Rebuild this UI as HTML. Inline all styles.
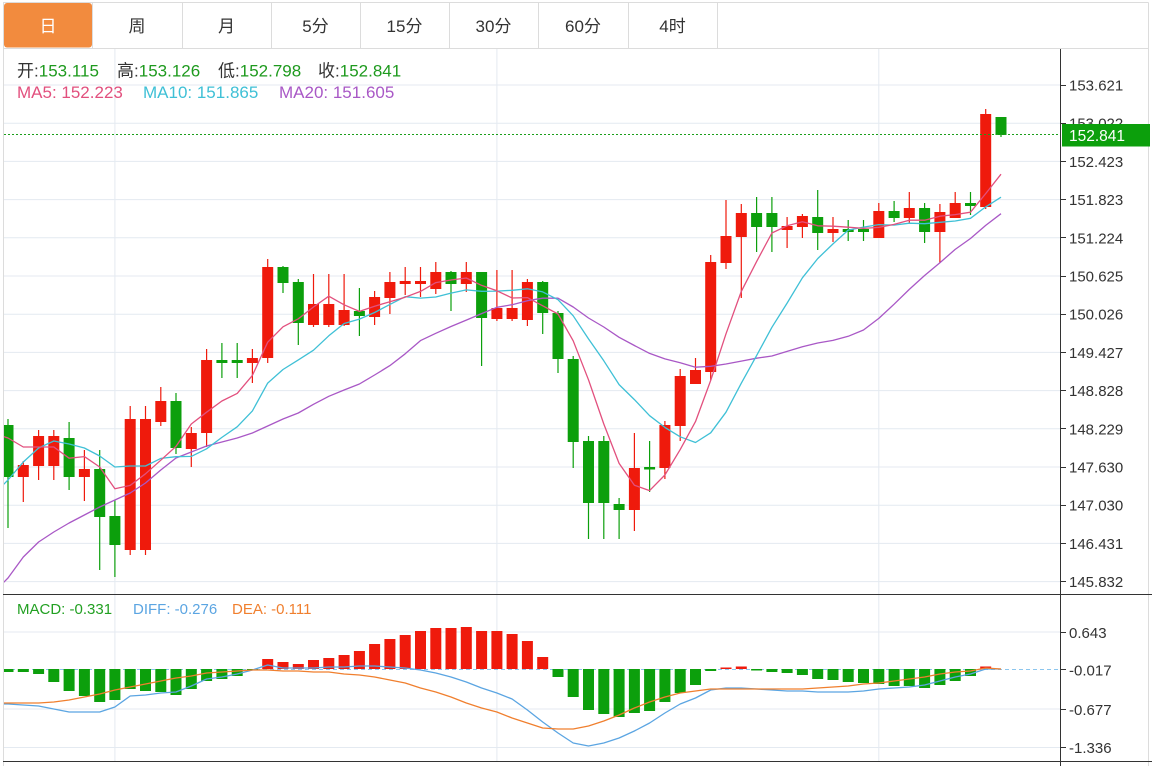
<!DOCTYPE html>
<html><head><meta charset="utf-8"><style>
html,body{margin:0;padding:0;background:#fff;}
svg{display:block;font-family:"Liberation Sans","Noto Sans CJK SC",sans-serif;}
</style></head><body>
<svg width="1152" height="766" viewBox="0 0 1152 766" xmlns="http://www.w3.org/2000/svg">
<defs>
<clipPath id="cm"><rect x="4" y="49" width="1056" height="545"/></clipPath>
<clipPath id="cd"><rect x="4" y="595" width="1056" height="166"/></clipPath>
</defs>
<rect width="1152" height="766" fill="#fff"/>
<g stroke="#dcdcdc" stroke-width="1" fill="none">
<path d="M3 2.5H1148.5M3 48.5H1148.5M3.5 2.5V766M1148.5 2.5V766M92.5 2.5V48.5M182.5 2.5V48.5M271.5 2.5V48.5M360.5 2.5V48.5M449.5 2.5V48.5M538.5 2.5V48.5M628.5 2.5V48.5M717.5 2.5V48.5"/>
</g>
<rect x="4" y="3" width="88" height="44.5" rx="3" fill="#f28b3e"/>
<g font-size="17" text-anchor="middle" fill="#333">
<text x="48" y="32" fill="#fff">日</text>
<text x="137" y="32">周</text>
<text x="226.5" y="32">月</text>
<text x="315.5" y="32">5分</text>
<text x="404.5" y="32">15分</text>
<text x="493.5" y="32">30分</text>
<text x="583" y="32">60分</text>
<text x="672.5" y="32">4时</text>
</g>
<g stroke="#e4eaf1" stroke-width="1">
<path d="M4 85H1060M4 123.2H1060M4 161.4H1060M4 199.6H1060M4 237.8H1060M4 276H1060M4 314.2H1060M4 352.4H1060M4 390.6H1060M4 428.8H1060M4 467H1060M4 505.2H1060M4 543.4H1060M4 581.6H1060"/>
<path d="M4 632H1060M4 709H1060M4 747.5H1060"/>
<path d="M114.9 49V762M496.9 49V762M878.8 49V762"/>
</g>
<g clip-path="url(#cm)">
<g stroke="#ef1a0c" stroke-width="1.2" fill="none">
<path d="M23.3 461V502M38.6 430V480M53.8 430V480M84.4 450V501M130.2 406V555M145.5 406V555M160.8 387V426M191.3 427V467M206.6 349V447M252.4 349V383M267.7 259V363M313.5 274V327M328.8 274V327M344.1 274V326M374.6 291V325M389.9 272V314M405.2 267V295M420.5 267V297M435.8 262V294M466.3 262V292M496.9 270V321M512.1 270V321M527.4 279V326M634.4 433V531M664.9 421V479M680.2 369V441M695.5 358V384M710.7 255V380M726 200V269M741.3 204V298M787.1 217V248M802.4 214V238M833 217V242M878.8 203V238M909.3 192V223M939.9 204V263M955.2 192V218M985.7 109V209"/>
</g>
<g fill="#ef1a0c">
<rect x="17.8" y="465" width="11" height="12"/>
<rect x="33.1" y="436" width="11" height="30"/>
<rect x="48.3" y="436" width="11" height="30"/>
<rect x="78.9" y="469" width="11" height="8"/>
<rect x="124.7" y="419" width="11" height="131"/>
<rect x="140" y="419" width="11" height="131"/>
<rect x="155.3" y="401" width="11" height="21"/>
<rect x="185.8" y="433" width="11" height="16"/>
<rect x="201.1" y="360" width="11" height="73"/>
<rect x="246.9" y="358" width="11" height="5"/>
<rect x="262.2" y="267" width="11" height="91"/>
<rect x="308" y="304" width="11" height="21"/>
<rect x="323.3" y="304" width="11" height="21"/>
<rect x="338.6" y="310" width="11" height="15"/>
<rect x="369.1" y="297" width="11" height="20"/>
<rect x="384.4" y="282" width="11" height="16"/>
<rect x="399.7" y="281" width="11" height="3"/>
<rect x="415" y="281" width="11" height="3"/>
<rect x="430.3" y="272" width="11" height="17"/>
<rect x="460.8" y="272" width="11" height="12"/>
<rect x="491.4" y="308" width="11" height="11"/>
<rect x="506.6" y="308" width="11" height="11"/>
<rect x="521.9" y="282" width="11" height="38"/>
<rect x="628.9" y="468" width="11" height="42"/>
<rect x="659.4" y="425" width="11" height="43"/>
<rect x="674.7" y="376" width="11" height="50"/>
<rect x="690" y="370" width="11" height="14"/>
<rect x="705.2" y="262" width="11" height="110"/>
<rect x="720.5" y="236" width="11" height="27"/>
<rect x="735.8" y="213" width="11" height="24"/>
<rect x="781.6" y="226" width="11" height="4"/>
<rect x="796.9" y="216" width="11" height="11"/>
<rect x="827.5" y="229" width="11" height="4"/>
<rect x="873.3" y="211" width="11" height="27"/>
<rect x="903.8" y="208" width="11" height="10"/>
<rect x="934.4" y="212" width="11" height="20"/>
<rect x="949.7" y="203" width="11" height="15"/>
<rect x="980.2" y="114" width="11" height="93"/>
</g>
<g stroke="#0c9f0c" stroke-width="1.2" fill="none">
<path d="M8 419V528M69.1 422V490M99.7 450V570M114.9 500V577M176 393V454M221.9 343V378M237.2 343V378M283 266V293M298.3 279V345M359.4 288V336M451 271V311M481.6 272V366M542.7 281V334M558 311V373M573.2 356V468M588.5 436V539M603.8 436V539M619.1 498V539M649.6 441V492M756.6 197V252M771.9 197V252M817.7 190V250M848.2 220V241M863.5 220V241M894.1 201V222M924.6 203V243M970.5 192V215M1001 117V137"/>
</g>
<g fill="#0c9f0c">
<rect x="2.5" y="425" width="11" height="52"/>
<rect x="63.6" y="438" width="11" height="39"/>
<rect x="94.2" y="469" width="11" height="48"/>
<rect x="109.4" y="516" width="11" height="29"/>
<rect x="170.5" y="401" width="11" height="47"/>
<rect x="216.4" y="360" width="11" height="3"/>
<rect x="231.7" y="360" width="11" height="3"/>
<rect x="277.5" y="267" width="11" height="16"/>
<rect x="292.8" y="282" width="11" height="41"/>
<rect x="353.9" y="311" width="11" height="5"/>
<rect x="445.5" y="272" width="11" height="12"/>
<rect x="476.1" y="272" width="11" height="46"/>
<rect x="537.2" y="282" width="11" height="31"/>
<rect x="552.5" y="313" width="11" height="46"/>
<rect x="567.7" y="359" width="11" height="83"/>
<rect x="583" y="441" width="11" height="62"/>
<rect x="598.3" y="441" width="11" height="62"/>
<rect x="613.6" y="504" width="11" height="6"/>
<rect x="644.1" y="467" width="11" height="2.5"/>
<rect x="751.1" y="213" width="11" height="14"/>
<rect x="766.4" y="213" width="11" height="14"/>
<rect x="812.2" y="217" width="11" height="16"/>
<rect x="842.7" y="229" width="11" height="3"/>
<rect x="858" y="229" width="11" height="3"/>
<rect x="888.6" y="211" width="11" height="7"/>
<rect x="919.1" y="208" width="11" height="24"/>
<rect x="965" y="203" width="11" height="3"/>
<rect x="995.5" y="117" width="11" height="18"/>
</g>
<g fill="none" stroke-width="1.3" stroke-linejoin="round">
<polyline stroke="#a958c6" points="2,584 8,578 23.3,557 38.6,542 53.8,532 69.1,523 84.4,515 99.7,507 114.9,500 130.2,493 145.5,483 160.8,470 176,458 191.3,452 206.6,446 221.9,442 237.2,438 252.4,433 267.7,426 283,419 298.3,413 313.5,404.3 328.8,396.3 344.1,390 359.4,384 374.6,375 389.9,365.6 405.2,353.8 420.5,340.6 435.8,333.3 451,326.5 466.3,320.1 481.6,313.6 496.9,307.3 512.1,304.7 527.4,300.7 542.7,298.2 558,298.2 573.2,307 588.5,318 603.8,327 619.1,337.3 634.4,345.5 649.6,353.4 664.9,358.9 680.2,362.8 695.5,367.2 710.7,366.3 726,364 741.3,361.1 756.6,358.2 771.9,356 787.1,351.4 802.4,346.8 817.7,343 833,340.4 848.2,336.3 863.5,330 878.8,318.4 894.1,304.2 909.3,289.4 924.6,275.5 939.9,262.7 955.2,249.4 970.5,238.5 985.7,225.4 1001,213.7"/>
<polyline stroke="#3fc0d6" points="2,486 8,480 23.3,462 38.6,448 53.8,441 69.1,444 84.4,448 99.7,456 114.9,467 130.2,466 145.5,466 160.8,458.4 176,456.7 191.3,456.4 206.6,448.8 221.9,437.4 237.2,426.8 252.4,410.9 267.7,383.1 283,369.5 298.3,359.9 313.5,350.2 328.8,335.8 344.1,323.5 359.4,319.1 374.6,312.5 389.9,304.4 405.2,296.7 420.5,298.1 435.8,297 451,293.1 466.3,289.9 481.6,291.3 496.9,291.1 512.1,290.3 527.4,288.8 542.7,291.9 558,299.7 573.2,315.8 588.5,338.9 603.8,360.8 619.1,384.6 634.4,399.6 649.6,415.7 664.9,427.4 680.2,436.8 695.5,442.5 710.7,432.8 726,412.2 741.3,383.2 756.6,355.6 771.9,327.3 787.1,303.1 802.4,277.8 817.7,258.6 833,243.9 848.2,230.1 863.5,227.1 878.8,224.6 894.1,225.1 909.3,223.2 924.6,223.7 939.9,222.3 955.2,221 970.5,218.3 985.7,206.9 1001,197.2"/>
<polyline stroke="#e2507e" points="2,436 8,438 23.3,447 38.6,447 53.8,447 69.1,458.2 84.4,456.6 99.7,467 114.9,488.8 130.2,485.4 145.5,473.8 160.8,460.2 176,446.4 191.3,424 206.6,412.2 221.9,401 237.2,393.4 252.4,375.4 267.7,342.2 283,326.8 298.3,318.8 313.5,307 328.8,296.2 344.1,304.8 359.4,311.4 374.6,306.2 389.9,301.8 405.2,297.2 420.5,291.4 435.8,282.6 451,280 466.3,278 481.6,285.4 496.9,290.8 512.1,298 527.4,297.6 542.7,305.8 558,314 573.2,340.8 588.5,379.8 603.8,424 619.1,463.4 634.4,485.2 649.6,490.6 664.9,475 680.2,449.6 695.5,421.6 710.7,380.4 726,333.8 741.3,291.4 756.6,261.6 771.9,233 787.1,225.8 802.4,221.8 817.7,225.8 833,226.2 848.2,227.2 863.5,228.4 878.8,227.4 894.1,224.4 909.3,220.2 924.6,220.2 939.9,216.2 955.2,214.6 970.5,212.2 985.7,193.6 1001,174.2"/>
</g>
</g>
<path d="M4 134.5H1060" stroke="#1a9e1a" stroke-width="1" stroke-dasharray="2,2"/>
<g clip-path="url(#cd)">
<path d="M4 669.5H1060" stroke="#8cc6ee" stroke-width="1" stroke-dasharray="4,3"/>
<g fill="#0c9f0c">
<rect x="2.5" y="669" width="11" height="3"/>
<rect x="17.8" y="669" width="11" height="3"/>
<rect x="33.1" y="669" width="11" height="5"/>
<rect x="48.3" y="669" width="11" height="13"/>
<rect x="63.6" y="669" width="11" height="22"/>
<rect x="78.9" y="669" width="11" height="27"/>
<rect x="94.2" y="669" width="11" height="33"/>
<rect x="109.4" y="669" width="11" height="31"/>
<rect x="124.7" y="669" width="11" height="20"/>
<rect x="140" y="669" width="11" height="22"/>
<rect x="155.3" y="669" width="11" height="23"/>
<rect x="170.5" y="669" width="11" height="26"/>
<rect x="185.8" y="669" width="11" height="20"/>
<rect x="201.1" y="669" width="11" height="12"/>
<rect x="216.4" y="669" width="11" height="10"/>
<rect x="231.7" y="669" width="11" height="7"/>
<rect x="246.9" y="669" width="11" height="1.5"/>
<rect x="552.5" y="669" width="11" height="8"/>
<rect x="567.7" y="669" width="11" height="28"/>
<rect x="583" y="669" width="11" height="41"/>
<rect x="598.3" y="669" width="11" height="45"/>
<rect x="613.6" y="669" width="11" height="48"/>
<rect x="628.9" y="669" width="11" height="44"/>
<rect x="644.1" y="669" width="11" height="42"/>
<rect x="659.4" y="669" width="11" height="33"/>
<rect x="674.7" y="669" width="11" height="24"/>
<rect x="690" y="669" width="11" height="16"/>
<rect x="705.2" y="669" width="11" height="2"/>
<rect x="751.1" y="669" width="11" height="1.5"/>
<rect x="766.4" y="669" width="11" height="3"/>
<rect x="781.6" y="669" width="11" height="4"/>
<rect x="796.9" y="669" width="11" height="6"/>
<rect x="812.2" y="669" width="11" height="10"/>
<rect x="827.5" y="669" width="11" height="11"/>
<rect x="842.7" y="669" width="11" height="13"/>
<rect x="858" y="669" width="11" height="14"/>
<rect x="873.3" y="669" width="11" height="15"/>
<rect x="888.6" y="669" width="11" height="17"/>
<rect x="903.8" y="669" width="11" height="17"/>
<rect x="919.1" y="669" width="11" height="19"/>
<rect x="934.4" y="669" width="11" height="16"/>
<rect x="949.7" y="669" width="11" height="12"/>
<rect x="965" y="669" width="11" height="7"/>
</g>
<g fill="#ef1a0c">
<rect x="262.2" y="659" width="11" height="10"/>
<rect x="277.5" y="662" width="11" height="7"/>
<rect x="292.8" y="664" width="11" height="5"/>
<rect x="308" y="660" width="11" height="9"/>
<rect x="323.3" y="658" width="11" height="11"/>
<rect x="338.6" y="655" width="11" height="14"/>
<rect x="353.9" y="651" width="11" height="18"/>
<rect x="369.1" y="644" width="11" height="25"/>
<rect x="384.4" y="639" width="11" height="30"/>
<rect x="399.7" y="635" width="11" height="34"/>
<rect x="415" y="631" width="11" height="38"/>
<rect x="430.3" y="628" width="11" height="41"/>
<rect x="445.5" y="628" width="11" height="41"/>
<rect x="460.8" y="627" width="11" height="42"/>
<rect x="476.1" y="631" width="11" height="38"/>
<rect x="491.4" y="631" width="11" height="38"/>
<rect x="506.6" y="634" width="11" height="35"/>
<rect x="521.9" y="641" width="11" height="28"/>
<rect x="537.2" y="657" width="11" height="12"/>
<rect x="720.5" y="667.5" width="11" height="1.5"/>
<rect x="735.8" y="666.5" width="11" height="2.5"/>
<rect x="980.2" y="666.5" width="11" height="2.5"/>
</g>
<g fill="none" stroke-width="1.3" stroke-linejoin="round">
<polyline stroke="#5ba5e2" points="4,704 8,704 23.3,705 38.6,706 53.8,709 69.1,712 84.4,712 99.7,712 114.9,707 130.2,696 145.5,695 160.8,693 176,692 191.3,686 206.6,679 221.9,677 237.2,674 252.4,670 267.7,665 283,668 298.3,668 313.5,668 328.8,667 344.1,667 359.4,666 374.6,666 389.9,667 405.2,668 420.5,670 435.8,673 451,677 466.3,682 481.6,688 496.9,693 512.1,699 527.4,710 542.7,722 558,733 573.2,743 588.5,746 603.8,743 619.1,738 634.4,731 649.6,723 664.9,713 680.2,704 695.5,698 710.7,690 726,688 741.3,688 756.6,689 771.9,690 787.1,691 802.4,691 817.7,692 833,692 848.2,692 863.5,691 878.8,689 894.1,688 909.3,687 924.6,685 939.9,681 955.2,677 970.5,674 985.7,669 1001,669"/>
<polyline stroke="#f07f2e" points="4,703 8,703 23.3,703 38.6,703 53.8,702 69.1,700 84.4,697 99.7,694 114.9,690 130.2,687 145.5,684 160.8,681 176,678 191.3,676 206.6,673 221.9,672 237.2,671 252.4,670 267.7,670 283,671 298.3,671 313.5,672 328.8,672 344.1,674 359.4,675 374.6,677 389.9,680 405.2,683 420.5,688 435.8,692 451,697 466.3,703 481.6,708 496.9,712 512.1,718 527.4,723 542.7,728 558,729 573.2,729 588.5,726 603.8,721 619.1,715 634.4,708 649.6,702 664.9,697 680.2,693 695.5,691 710.7,689 726,689 741.3,689 756.6,689 771.9,689 787.1,689 802.4,689 817.7,688 833,687 848.2,686 863.5,684 878.8,683 894.1,681 909.3,679 924.6,677 939.9,674 955.2,672 970.5,671 985.7,668 1001,669"/>
</g>
</g>
<g stroke="#333" stroke-width="1" fill="none">
<path d="M1060.5 49V766"/>
<path d="M3 594.5H1152M3 761.5H1152"/>
<path d="M1060 85.5H1066M1060 123.5H1066M1060 161.5H1066M1060 199.5H1066M1060 237.5H1066M1060 276.5H1066M1060 314.5H1066M1060 352.5H1066M1060 390.5H1066M1060 428.5H1066M1060 467.5H1066M1060 505.5H1066M1060 543.5H1066M1060 581.5H1066"/>
<path d="M1060 632.5H1066M1060 669.5H1066M1060 709.5H1066M1060 747.5H1066"/>
</g>
<g font-size="15" fill="#333">
<text x="1069" y="90.5">153.621</text>
<text x="1069" y="128.7">153.022</text>
<text x="1069" y="166.9">152.423</text>
<text x="1069" y="205.1">151.823</text>
<text x="1069" y="243.3">151.224</text>
<text x="1069" y="281.5">150.625</text>
<text x="1069" y="319.7">150.026</text>
<text x="1069" y="357.9">149.427</text>
<text x="1069" y="396.1">148.828</text>
<text x="1069" y="434.3">148.229</text>
<text x="1069" y="472.5">147.630</text>
<text x="1069" y="510.7">147.030</text>
<text x="1069" y="548.9">146.431</text>
<text x="1069" y="587.1">145.832</text>
<text x="1069" y="638">0.643</text>
<text x="1069" y="675.5">-0.017</text>
<text x="1069" y="715">-0.677</text>
<text x="1069" y="753">-1.336</text>
</g>
<rect x="1062" y="124" width="88" height="22.5" fill="#0c9f0c"/>
<text x="1069" y="141" font-size="15.5" fill="#fff">152.841</text>
<g font-size="17">
<text x="17" y="76.5"><tspan fill="#333">开:</tspan><tspan fill="#1e9a1e">153.115</tspan></text>
<text x="117" y="76.5"><tspan fill="#333">高:</tspan><tspan fill="#1e9a1e">153.126</tspan></text>
<text x="218" y="76.5"><tspan fill="#333">低:</tspan><tspan fill="#1e9a1e">152.798</tspan></text>
<text x="318" y="76.5"><tspan fill="#333">收:</tspan><tspan fill="#1e9a1e">152.841</tspan></text>
<text x="17" y="98" fill="#e2507e">MA5: 152.223</text>
<text x="143" y="98" fill="#3fc0d6">MA10: 151.865</text>
<text x="279" y="98" fill="#a958c6">MA20: 151.605</text>
</g>
<g font-size="15">
<text x="17" y="614" fill="#22a022">MACD: -0.331</text>
<text x="133" y="614" fill="#5ba5e2">DIFF: -0.276</text>
<text x="232" y="614" fill="#f07f2e">DEA: -0.111</text>
</g>
</svg>
</body></html>
